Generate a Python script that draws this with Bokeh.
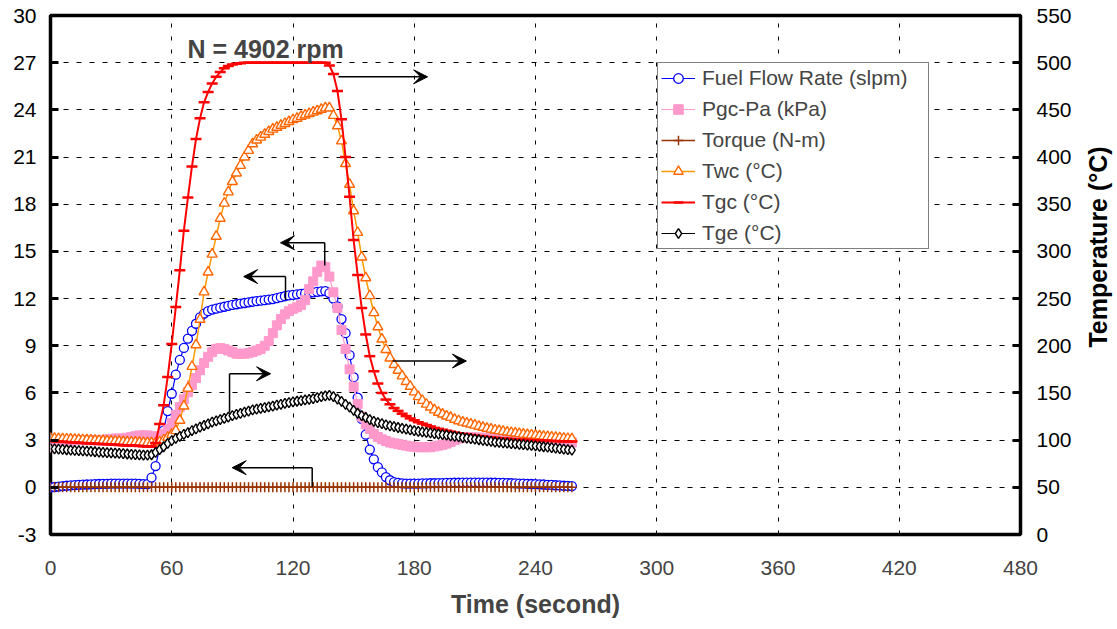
import math
from bokeh.plotting import figure
from bokeh.layouts import row
from bokeh.models import (Range1d, LinearAxis, FixedTicker, Legend, LegendItem,
                          Arrow, VeeHead, Label)
from bokeh.core.properties import value
from bokeh.embed import file_html
from bokeh.resources import INLINE

# ---------------- data ----------------
time_s = list(range(0, 259, 2))  # sampling grid, 2 s

fuel_flow = [  # slpm (left axis)
    0.00, 0.02, 0.05, 0.08, 0.10, 0.12, 0.14, 0.16, 0.17, 0.18,
    0.19, 0.20, 0.21, 0.22, 0.22, 0.23, 0.23, 0.24, 0.24, 0.24,
    0.24, 0.23, 0.22, 0.20, 0.20, 0.62, 1.35, 2.50, 3.60, 4.85,
    5.95, 7.16, 8.10, 8.86, 9.45, 9.95, 10.40, 10.80, 11.05, 11.20,
    11.30, 11.36, 11.42, 11.48, 11.54, 11.60, 11.64, 11.68, 11.72, 11.76,
    11.80, 11.84, 11.87, 11.90, 11.94, 11.97, 12.03, 12.09, 12.15, 12.20,
    12.23, 12.27, 12.30, 12.33, 12.37, 12.40, 12.43, 12.46, 12.48, 12.35,
    12.00, 11.50, 10.70, 9.80, 8.40, 7.00, 5.70, 4.35, 3.35, 2.40,
    1.78, 1.28, 0.95, 0.65, 0.45, 0.33, 0.28, 0.25, 0.24, 0.24,
    0.24, 0.24, 0.25, 0.25, 0.26, 0.26, 0.27, 0.27, 0.28, 0.28,
    0.29, 0.29, 0.30, 0.30, 0.30, 0.30, 0.30, 0.30, 0.30, 0.29,
    0.29, 0.28, 0.28, 0.27, 0.26, 0.25, 0.24, 0.23, 0.22, 0.21,
    0.20, 0.19, 0.18, 0.16, 0.15, 0.13, 0.12, 0.10, 0.09, 0.08,
]

pgc_pa = [  # kPa (left axis)
    2.50, 2.60, 2.70, 2.80, 2.90, 2.95, 3.00, 3.00, 3.00, 3.00,
    3.00, 3.00, 3.00, 3.00, 3.05, 3.05, 3.10, 3.10, 3.10, 3.15,
    3.20, 3.25, 3.30, 3.30, 3.30, 3.25, 3.20, 3.25, 3.40, 3.70,
    4.10, 4.60, 5.10, 5.60, 6.05, 6.50, 6.95, 7.45, 7.90, 8.30,
    8.60, 8.80, 8.85, 8.80, 8.70, 8.60, 8.50, 8.48, 8.50, 8.53,
    8.60, 8.70, 8.80, 9.00, 9.30, 9.80, 10.30, 10.70, 11.00, 11.20,
    11.35, 11.45, 11.60, 11.90, 12.60, 13.10, 13.70, 14.10, 14.00, 13.40,
    12.40, 11.40, 10.00, 8.80, 7.50, 6.40, 5.30, 4.50, 4.00, 3.70,
    3.40, 3.20, 3.05, 2.95, 2.85, 2.80, 2.75, 2.70, 2.65, 2.60,
    2.58, 2.55, 2.55, 2.55, 2.55, 2.60, 2.65, 2.70, 2.78, 2.88,
    3.00, 3.10, 3.15, 3.18, 3.18, 3.17, 3.16, 3.15, 3.14, 3.12,
    3.10, 3.08, 3.06, 3.04, 3.02, 3.00, 2.98, 2.96, 2.95, 2.94,
    2.93, 2.92, 2.91, 2.90, 2.89, 2.88, 2.87, 2.86, 2.85, 2.85,
]

torque = [  # N-m (left axis)
    0.0, 0.0, 0.0, 0.0, 0.0, 0.0, 0.0, 0.0, 0.0, 0.0,
    0.0, 0.0, 0.0, 0.0, 0.0, 0.0, 0.0, 0.0, 0.0, 0.0,
    0.0, 0.0, 0.0, 0.0, 0.0, 0.0, 0.0, 0.0, 0.0, 0.0,
    0.0, 0.0, 0.0, 0.0, 0.0, 0.0, 0.0, 0.0, 0.0, 0.0,
    0.0, 0.0, 0.0, 0.0, 0.0, 0.0, 0.0, 0.0, 0.0, 0.0,
    0.0, 0.0, 0.0, 0.0, 0.0, 0.0, 0.0, 0.0, 0.0, 0.0,
    0.0, 0.0, 0.0, 0.0, 0.0, 0.0, 0.0, 0.0, 0.0, 0.0,
    0.0, 0.0, 0.0, 0.0, 0.0, 0.0, 0.0, 0.0, 0.0, 0.0,
    0.0, 0.0, 0.0, 0.0, 0.0, 0.0, 0.0, 0.0, 0.0, 0.0,
    0.0, 0.0, 0.0, 0.0, 0.0, 0.0, 0.0, 0.0, 0.0, 0.0,
    0.0, 0.0, 0.0, 0.0, 0.0, 0.0, 0.0, 0.0, 0.0, 0.0,
    0.0, 0.0, 0.0, 0.0, 0.0, 0.0, 0.0, 0.0, 0.0, 0.0,
    0.0, 0.0, 0.0, 0.0, 0.0, 0.0, 0.0, 0.0, 0.0, 0.0,
]

twc = [  # deg C (right axis)
    102.0, 101.8, 101.6, 101.4, 101.2, 101.0, 100.8, 100.6, 100.4, 100.2,
    100.0, 99.8, 99.6, 99.4, 99.2, 99.0, 98.8, 98.6, 98.4, 98.2,
    98.0, 97.8, 97.6, 97.4, 97.2, 97.0, 97.0, 98.0, 100.0, 103.0,
    106.0, 110.0, 121.0, 136.0, 155.0, 178.0, 201.0, 228.0, 257.0, 278.0,
    297.0, 316.0, 335.0, 351.0, 363.0, 374.0, 383.0, 391.0, 400.0, 407.0,
    414.0, 418.0, 421.0, 424.0, 427.0, 429.5, 431.5, 433.5, 435.5, 437.5,
    439.5, 441.0, 443.0, 444.5, 446.0, 447.5, 449.0, 450.5, 452.0, 452.0,
    444.0, 433.0, 417.0, 393.0, 371.0, 343.0, 320.0, 294.0, 272.0, 253.0,
    235.0, 220.0, 207.0, 196.0, 187.0, 180.0, 174.0, 168.0, 162.0, 157.0,
    151.0, 146.0, 142.0, 138.0, 135.0, 132.0, 129.5, 127.5, 125.5, 124.0,
    122.0, 120.5, 119.0, 118.0, 117.0, 115.8, 114.6, 113.5, 112.5, 111.6,
    110.7, 110.0, 109.2, 108.5, 108.0, 107.4, 106.8, 106.3, 105.8, 105.4,
    105.0, 104.5, 104.0, 103.6, 103.2, 102.8, 102.4, 102.0, 101.7, 101.4,
]

tgc = [  # deg C (right axis)
    99.0, 98.8, 98.5, 98.3, 98.0, 97.8, 97.5, 97.3, 97.0, 96.8,
    96.5, 96.3, 96.0, 95.8, 95.6, 95.3, 95.1, 94.9, 94.6, 94.4,
    94.2, 94.0, 93.7, 93.5, 93.2, 93.0, 97.0, 117.0, 137.0, 167.0,
    202.0, 241.0, 280.0, 322.0, 357.0, 390.0, 419.0, 441.0, 458.0, 469.0,
    478.0, 485.0, 490.0, 494.0, 496.5, 498.0, 499.0, 499.5, 500.0, 500.0,
    500.0, 500.0, 500.0, 500.0, 500.0, 500.0, 500.0, 500.0, 500.0, 500.0,
    500.0, 500.0, 500.0, 500.0, 500.0, 500.0, 500.0, 500.0, 500.0, 497.0,
    488.0, 470.0, 440.0, 400.0, 358.0, 312.0, 275.0, 240.0, 212.0, 189.0,
    173.0, 160.0, 150.0, 143.0, 138.0, 134.0, 131.0, 128.0, 125.5, 123.0,
    121.0, 119.0, 117.5, 116.0, 114.5, 113.0, 112.0, 111.0, 110.0, 109.0,
    108.0, 107.3, 106.6, 106.0, 105.4, 104.8, 104.3, 103.8, 103.3, 102.9,
    102.5, 102.1, 101.8, 101.5, 101.2, 100.9, 100.6, 100.4, 100.2, 100.0,
    99.8, 99.6, 99.4, 99.2, 99.1, 99.0, 98.9, 98.8, 98.7, 98.6,
]

tge = [  # deg C (right axis)
    91.0, 90.7, 90.4, 90.1, 89.8, 89.5, 89.2, 88.9, 88.6, 88.3,
    88.0, 87.7, 87.4, 87.1, 86.8, 86.5, 86.2, 85.9, 85.6, 85.3,
    85.0, 84.7, 84.4, 84.1, 84.0, 84.5, 87.0, 90.0, 93.0, 96.5,
    99.5, 101.8, 104.0, 106.0, 108.0, 110.0, 112.0, 113.8, 115.5, 117.3,
    119.0, 120.5, 121.8, 123.0, 124.5, 126.0, 127.2, 128.4, 129.6, 130.8,
    132.0, 132.8, 133.6, 134.4, 135.2, 136.0, 137.0, 138.0, 139.0, 139.8,
    140.5, 141.2, 141.9, 142.6, 143.3, 144.0, 145.0, 146.0, 147.0, 147.5,
    146.0, 143.5, 141.0, 138.0, 135.0, 131.5, 128.5, 126.0, 124.0, 121.8,
    120.0, 118.6, 117.4, 116.2, 115.2, 114.3, 113.4, 112.5, 111.6, 110.8,
    110.0, 109.4, 108.8, 108.2, 107.6, 107.0, 106.4, 105.8, 105.2, 104.6,
    104.0, 103.4, 102.8, 102.2, 101.6, 101.0, 100.4, 99.8, 99.2, 98.6,
    98.0, 97.6, 97.2, 96.8, 96.4, 96.0, 95.6, 95.2, 94.8, 94.4,
    94.0, 93.5, 93.0, 92.5, 92.0, 91.5, 91.0, 90.5, 90.0, 89.5,
]

x_ticks = [0, 60, 120, 180, 240, 300, 360, 420, 480]
left_ticks = [-3, 0, 3, 6, 9, 12, 15, 18, 21, 24, 27, 30]
right_ticks = [0, 50, 100, 150, 200, 250, 300, 350, 400, 450, 500, 550]

# annotation arrows (left-axis units): elbow x, elbow bottom y, y of arrow, tip x
arrow_start_x = [142.5, 169.3, 116.3, 135.7, 88.6, 129.5]
arrow_low_y = [None, None, 11.9, 14.1, 4.76, 0.03]
arrow_y = [26.1, 8.03, 13.4, 15.55, 7.22, 1.25]
arrow_tip_x = [186.6, 205.8, 95.6, 113.8, 108.9, 89.9]

FONT = "Liberation Sans"
H = 620

p = figure(width=1078, height=H, x_range=Range1d(0, 480), y_range=Range1d(-3, 30),
           output_backend="svg", toolbar_location=None,
           min_border_left=50, min_border_right=58, min_border_top=15, min_border_bottom=82,
           background_fill_color="white", border_fill_color="white")
p.extra_y_ranges = {"temp": Range1d(0, 550)}

p.outline_line_color = "black"
p.outline_line_width = 3.5

# axes
p.xaxis.ticker = FixedTicker(ticks=x_ticks)
p.yaxis.ticker = FixedTicker(ticks=left_ticks)
p.yaxis[0].major_label_overrides = {-3: "-3"}
right_axis = LinearAxis(y_range_name="temp", ticker=FixedTicker(ticks=right_ticks))
p.add_layout(right_axis, "right")

for ax in p.yaxis:
    ax.axis_line_color = None
    ax.major_tick_in = 8
    ax.major_tick_out = 0
    ax.major_tick_line_width = 3
    ax.minor_tick_line_color = None
    ax.major_label_text_font = FONT
    ax.major_label_text_font_size = "21px"
    ax.major_label_text_color = "black"
    ax.major_label_standoff = 14
right_axis.major_label_standoff = 16

xa = p.xaxis[0]
xa.axis_line_color = None
xa.major_tick_line_color = None
xa.minor_tick_line_color = None
xa.major_label_text_font = FONT
xa.major_label_text_font_size = "21px"
xa.major_label_standoff = 20
xa.axis_label = "Time (second)"
xa.axis_label_text_font = FONT
xa.axis_label_text_font_size = "25px"
xa.axis_label_text_font_style = "bold"
xa.axis_label_standoff = 12

# grids
p.xgrid.ticker = FixedTicker(ticks=x_ticks)
p.ygrid.ticker = FixedTicker(ticks=left_ticks)
p.xgrid.grid_line_color = "black"
p.xgrid.grid_line_dash = "4 9"
p.xgrid.grid_line_width = 1
p.ygrid.grid_line_color = "black"
p.ygrid.grid_line_dash = "5 8"
p.ygrid.grid_line_width = 1

# series
items = []

l = p.line(time_s, fuel_flow, line_color="#0000FF", line_width=1.2)
s = p.scatter(time_s, fuel_flow, marker="circle", size=9, line_color="#0000FF",
              fill_color="white", line_width=1.3)
items.append(LegendItem(label="Fuel Flow Rate (slpm)", renderers=[l, s]))

l = p.line(time_s, pgc_pa, line_color="#FF99CC", line_width=1.2)
s = p.scatter(time_s, pgc_pa, marker="square", size=9, line_color="#FF99CC",
              fill_color="#FF99CC")
items.append(LegendItem(label="Pgc-Pa (kPa)", renderers=[l, s]))

l = p.line(time_s, torque, line_color="#993300", line_width=1.5)
s = p.scatter(time_s, torque, marker="cross", size=10, line_color="#993300", line_width=1.5)
items.append(LegendItem(label="Torque (N-m)", renderers=[l, s]))

l = p.line(time_s, twc, y_range_name="temp", line_color="#FF9900", line_width=1.5)
s = p.scatter(time_s, twc, y_range_name="temp", marker="triangle", size=10,
              line_color="#FF6600", fill_color="white", line_width=1.4)
items.append(LegendItem(label="Twc (°C)", renderers=[l, s]))

l = p.line(time_s, tgc, y_range_name="temp", line_color="#FF0000", line_width=2)
s = p.scatter(time_s, tgc, y_range_name="temp", marker="dash", size=11,
              line_color="#FF0000", line_width=2.5)
items.append(LegendItem(label="Tgc (°C)", renderers=[l, s]))

l = p.line(time_s, tge, y_range_name="temp", line_color="black", line_width=1.2)
s = p.scatter(time_s, tge, y_range_name="temp", marker="diamond", size=10,
              line_color="black", fill_color="white", line_width=1.4)
items.append(LegendItem(label="Tge (°C)", renderers=[l, s]))

legend = Legend(items=items, location=(607, 285), orientation="vertical",
                label_text_font=FONT, label_text_font_size="21px",
                glyph_width=34, glyph_height=24, label_height=24, label_standoff=7,
                label_width=223, spacing=7, padding=3, margin=0,
                border_line_color="black", border_line_width=1,
                background_fill_color="white", background_fill_alpha=1)
p.add_layout(legend, "center")

# arrows
for sx, ly, ay, tx in zip(arrow_start_x, arrow_low_y, arrow_y, arrow_tip_x):
    if ly is not None:
        p.line([sx, sx], [ly, ay], line_color="black", line_width=1.5)
    p.add_layout(Arrow(end=VeeHead(size=14, fill_color="black", line_color="black"),
                       x_start=sx, y_start=ay, x_end=tx, y_end=ay,
                       line_color="black", line_width=1.5))

# title text inside the plot
p.add_layout(Label(x=67.8, y=27.9, text="N = 4902 rpm", text_font=FONT,
                   text_font_size="25px", text_font_style="bold",
                   text_baseline="alphabetic", text_align="left"))

# right-hand axis title in a narrow strip next to the plot
strip = figure(width=38, height=H, x_range=Range1d(0, 38), y_range=Range1d(0, H),
               output_backend="svg", toolbar_location=None,
               x_axis_location=None, y_axis_location=None,
               min_border=0, outline_line_color=None,
               background_fill_color="white", border_fill_color="white")
strip.grid.visible = False
strip.text(x=[19.5], y=[H - 276.5], text=["Temperature (°C)"], angle=math.pi / 2,
           text_align="center", text_baseline="middle", text_color="black",
           text_font=value(FONT), text_font_size="25px", text_font_style="bold")

layout = row(p, strip)
open("out.html", "w").write(file_html(layout, INLINE))
